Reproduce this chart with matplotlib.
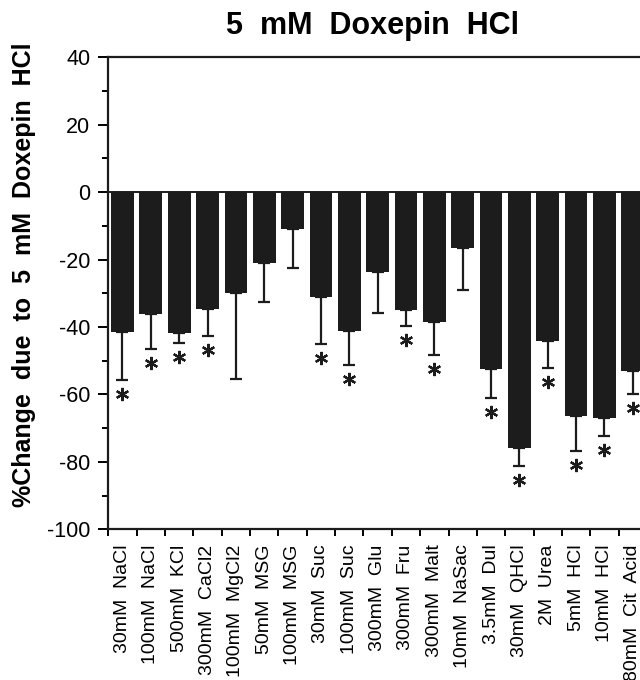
import matplotlib
matplotlib.use("Agg")
import matplotlib.pyplot as plt
import matplotlib.transforms as mtransforms
import numpy as np

plt.rcParams['font.family'] = ['Liberation Sans', 'DejaVu Sans']
plt.rcParams['axes.unicode_minus'] = False

categories = ["30mM  NaCl", "100mM  NaCl", "500mM  KCl", "300mM  CaCl2", "100mM  MgCl2",
              "50mM  MSG", "100mM  MSG", "30mM  Suc", "100mM  Suc", "300mM  Glu",
              "300mM  Fru", "300mM  Malt", "10mM  NaSac", "3.5mM  Dul", "30mM  QHCl",
              "2M  Urea", "5mM  HCl", "10mM  HCl", "80mM  Cit  Acid"]
values = [-41.6, -36.0, -41.7, -34.8, -29.9, -21.0, -11.0, -31.1, -41.3, -23.8,
          -35.0, -38.4, -16.7, -52.4, -75.9, -44.1, -66.5, -67.1, -53.1]
errors = [14.2, 10.4, 3.0, 7.8, 25.5, 11.6, 11.4, 13.8, 10.1, 12.0,
          4.8, 9.8, 12.4, 8.7, 5.3, 8.1, 10.2, 5.3, 6.9]
significant = [1, 1, 1, 1, 0, 0, 0, 1, 1, 0, 1, 1, 0, 1, 1, 1, 1, 1, 1]

W, H = 640, 680
fig = plt.figure(figsize=(W / 100, H / 100), dpi=100)
left, right = 108.3, 108.3 + 20 * 28.35
top, bottom = 57.3, 529.3
ax = fig.add_axes([left / W, 1 - bottom / H, (right - left) / W, (bottom - top) / H])

x = np.arange(len(categories))
ax.bar(x, values, width=0.8, color='#1c1c1c', edgecolor='none', zorder=2)
ax.errorbar(x, values, yerr=[errors, np.zeros(len(errors))], fmt='none',
            ecolor='#1c1c1c', elinewidth=1.6, capsize=4, capthick=1.6, zorder=3)
ax.axhline(0, color='#1c1c1c', lw=1.4, zorder=1)

sx = [xi for xi, s in zip(x, significant) if s]
sy = [v - e for v, e, s in zip(values, errors, significant) if s]
off = mtransforms.offset_copy(ax.transData, fig=fig, x=0, y=-14, units='dots')
ax.plot(sx, sy, linestyle='none', marker=(6, 2, 0), markersize=9.5, mew=1.6,
        color='#1c1c1c', transform=off, zorder=4, clip_on=False)

ax.set_xlim(-0.5, 19.5)
ax.set_ylim(-100, 40)
ax.set_yticks(np.arange(-100, 41, 20))
ax.set_yticks(np.arange(-100, 41, 10), minor=True)
ax.set_xticks(np.arange(-0.5, 20, 1.0))
ax.set_xticklabels([])
ax.set_xticks(x, minor=True)
ax.set_xticklabels(categories, minor=True, rotation=90, fontsize=14, va='top', ha='center')
ax.tick_params(axis='x', which='minor', length=0, pad=11)
ax.tick_params(axis='x', which='major', length=5, width=1.4, direction='out')
ax.tick_params(axis='y', which='major', length=7, width=1.4, direction='out', labelsize=15.5, pad=6)
ax.tick_params(axis='y', which='minor', length=4, width=1.4, direction='out')
for sp in ax.spines.values():
    sp.set_linewidth(1.6)
    sp.set_color('#1c1c1c')

fig.text(372 / W, 1 - 26 / H, "5  mM  Doxepin  HCl", fontsize=22, fontweight='bold',
         ha='center', va='center')
fig.text(24 / W, 1 - 275 / H, "%Change  due  to  5  mM  Doxepin  HCl", fontsize=18,
         fontweight='bold', rotation=90, ha='center', va='center')

fig.savefig("out.png", dpi=100)
